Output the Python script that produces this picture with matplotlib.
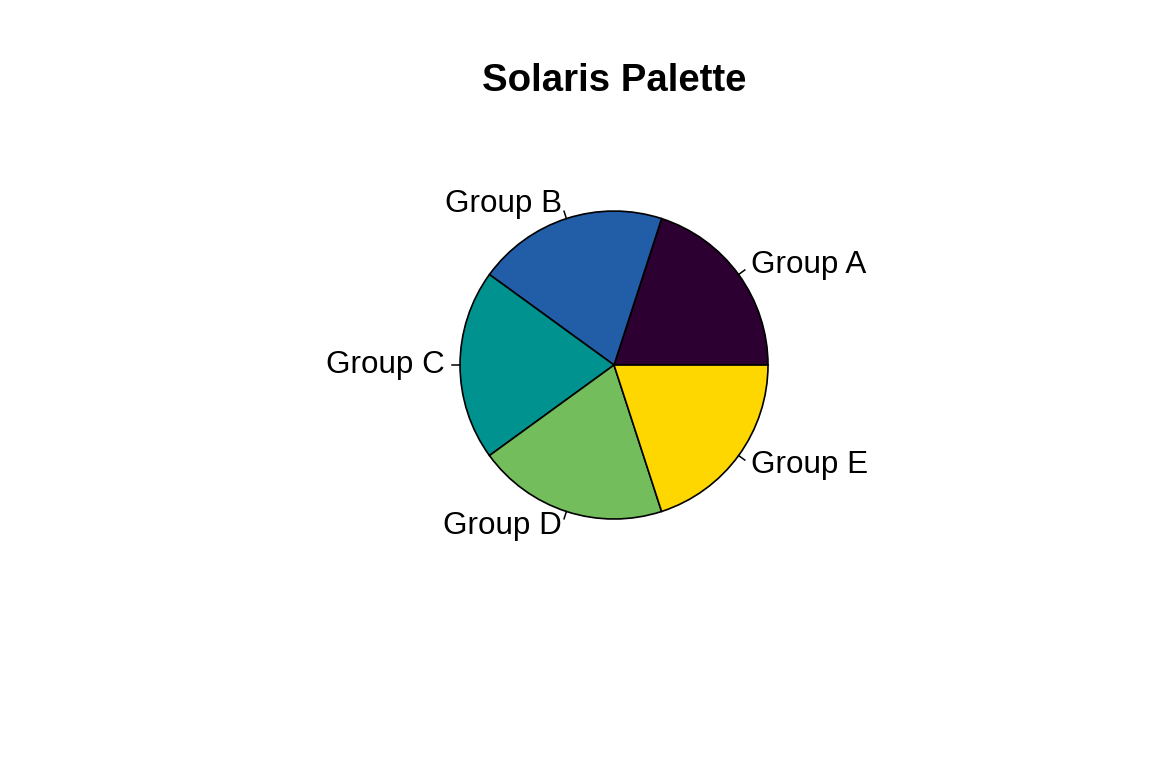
import matplotlib

matplotlib.use("Agg")
import matplotlib.pyplot as plt
import numpy as np

plt.rcParams["font.family"] = ["Liberation Sans", "DejaVu Sans"]

# data
groups = ["Group A", "Group B", "Group C", "Group D", "Group E"]
values = [1, 1, 1, 1, 1]
colors = ["#2C0030", "#225DA8", "#00928F", "#74BD5C", "#FFD700"]

fig = plt.figure(figsize=(11.52, 7.68), dpi=100)
# square axes centred on the pie (R base style)
ax = fig.add_axes([0.3993, 0.3242, 0.2674, 0.401])
ax.pie(
    values,
    colors=colors,
    startangle=0,
    counterclock=True,
    radius=1.0,
    wedgeprops=dict(edgecolor="black", linewidth=1.2),
)
ax.set_xlim(-1, 1)
ax.set_ylim(-1, 1)
ax.set_aspect("equal")
ax.axis("off")

# R-style labels: tick from r to 1.05 r, text at 1.1 r
cum = np.cumsum([0] + values)
total = cum[-1]
for i, g in enumerate(groups):
    mid = 2 * np.pi * (cum[i] + cum[i + 1]) / 2 / total
    c, s = np.cos(mid), np.sin(mid)
    ax.plot([c, 1.05 * c], [s, 1.05 * s], color="black", lw=1.1, clip_on=False)
    ax.text(
        1.1 * c, 1.1 * s, g,
        ha="left" if c > 0 else "right",
        va="center",
        fontsize=22.6,
        clip_on=False,
    )

fig.text(0.533, 1 - 81 / 768, "Solaris Palette", ha="center", va="center",
         fontsize=27.6, fontweight="bold")

plt.savefig("out.png", dpi=100)
